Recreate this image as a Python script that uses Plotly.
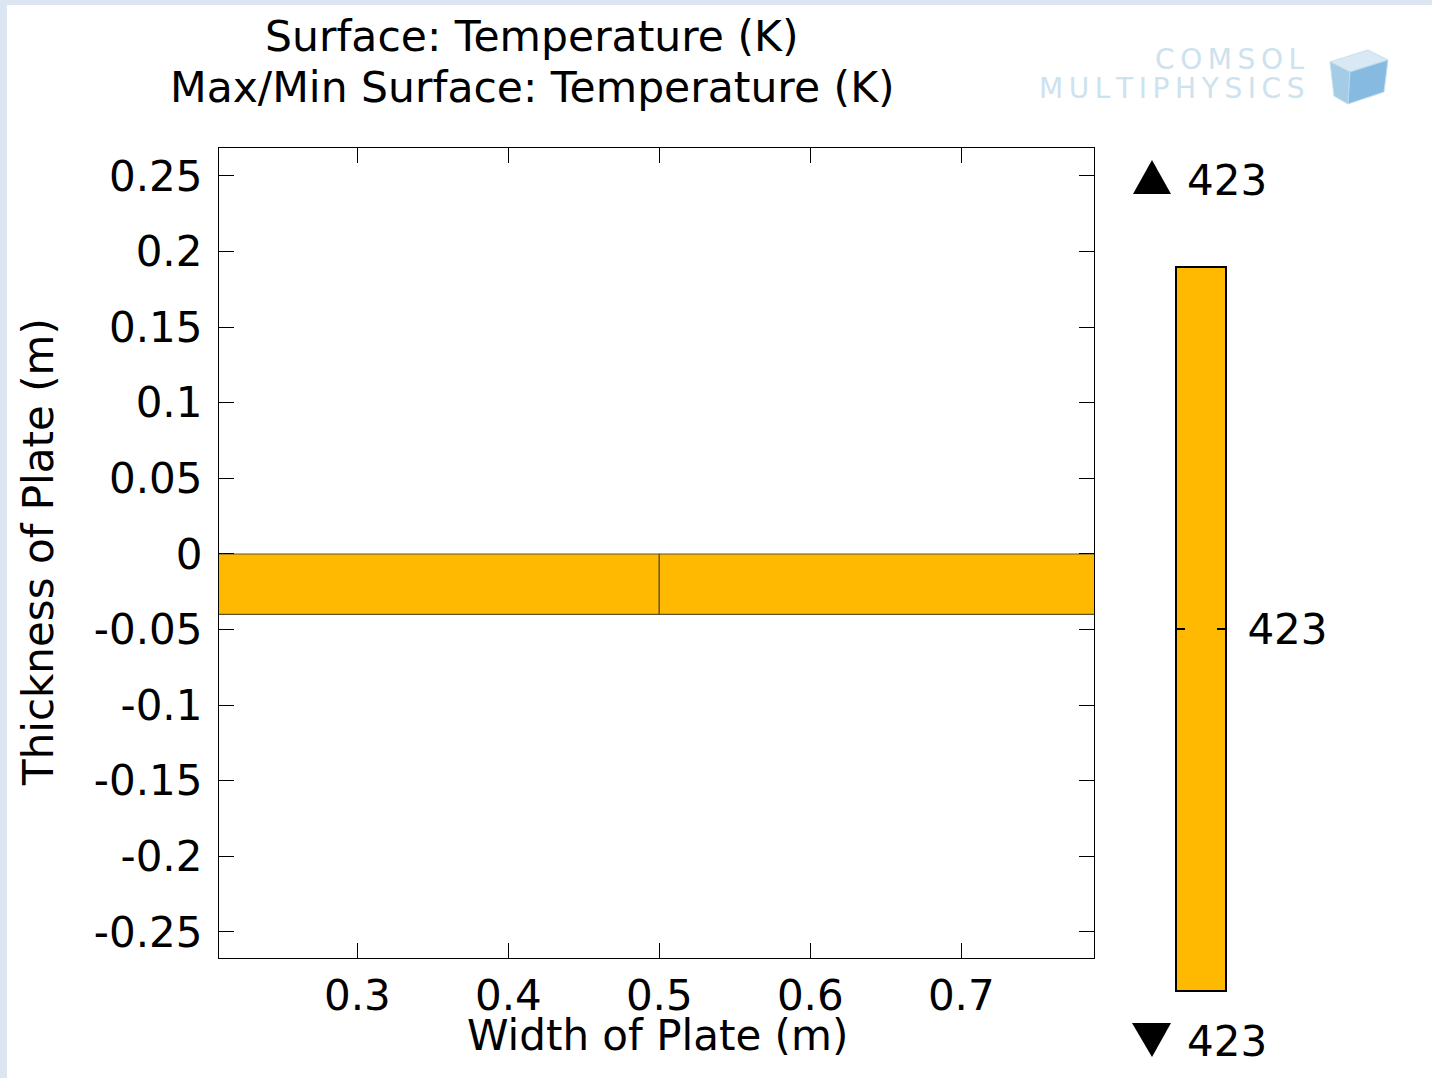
import plotly.graph_objects as go

# ---- data -------------------------------------------------------------
plate_x_edges = [0.0, 0.5, 1.0]          # plate segments along the width (m)
plate_y_top = 0.0                         # top face of the plate (m)
plate_y_bottom = -0.04                    # bottom face of the plate (m)
surface_temperature = 423                 # uniform surface temperature (K)
t_max = 423                               # max surface temperature (K)
t_min = 423                               # min surface temperature (K)

x_tick_vals = [0.3, 0.4, 0.5, 0.6, 0.7]
x_tick_text = ["0.3", "0.4", "0.5", "0.6", "0.7"]
y_tick_vals = [0.25, 0.2, 0.15, 0.1, 0.05, 0.0, -0.05, -0.1, -0.15, -0.2, -0.25]
y_tick_text = ["0.25", "0.2", "0.15", "0.1", "0.05", "0", "-0.05", "-0.1", "-0.15", "-0.2", "-0.25"]

# ---- page geometry ----------------------------------------------------
W, H = 1432, 1078
FONT = "DejaVu Sans"
PLATE_COLOR = "#FFB900"
EDGE_COLOR = "#5f5235"
FRAME_COLOR = "#dce6f2"
LOGO_COLOR = "#cde2ef"
TICK_SIZE = 42
TITLE_SIZE = 42.5


def px(x):
    return x / W


def py(y):
    return 1 - y / H


fig = go.Figure()

# plate segments
for x0, x1 in zip(plate_x_edges[:-1], plate_x_edges[1:]):
    fig.add_trace(go.Scatter(
        x=[x0, x1, x1, x0, x0],
        y=[plate_y_top, plate_y_top, plate_y_bottom, plate_y_bottom, plate_y_top],
        mode="lines", fill="toself", fillcolor=PLATE_COLOR,
        line=dict(color=EDGE_COLOR, width=1.2),
        hoverinfo="skip", showlegend=False,
        xaxis="x", yaxis="y",
    ))

# colour legend bar
span = max(t_max - t_min, 1.0) / 2
fig.add_trace(go.Heatmap(
    x=[0], y=[t_min - span / 2, t_max + span / 2],
    z=[[t_min], [t_max]],
    colorscale=[[0, PLATE_COLOR], [1, PLATE_COLOR]],
    showscale=False, hoverinfo="skip",
    xaxis="x2", yaxis="y2",
))

axis_common = dict(
    showline=True, linecolor="black", linewidth=1.3, mirror="ticks",
    ticks="inside", tickcolor="black", tickwidth=1.3, ticklen=15,
    showgrid=False, zeroline=False,
    tickfont=dict(family=FONT, size=TICK_SIZE, color="black"),
)

fig.update_layout(
    width=W, height=H,
    margin=dict(l=0, r=0, t=0, b=0),
    paper_bgcolor="white", plot_bgcolor="white",
    showlegend=False,
    xaxis=dict(
        domain=[px(219), px(1094)], range=[0.2084, 0.7879],
        tickmode="array", tickvals=x_tick_vals, ticktext=x_tick_text,
        ticklabelstandoff=0, anchor="y",
        **axis_common,
    ),
    yaxis=dict(
        domain=[py(958), py(148)], range=[-0.2672, 0.2685],
        tickmode="array", tickvals=y_tick_vals, ticktext=y_tick_text,
        ticklabelstandoff=7, anchor="x",
        **axis_common,
    ),
    xaxis2=dict(
        domain=[px(1177), px(1225)], range=[-0.5, 0.5], anchor="y2",
        showline=True, linecolor="black", linewidth=2, mirror=True,
        showticklabels=False, ticks="", showgrid=False, zeroline=False,
    ),
    yaxis2=dict(
        domain=[py(990), py(268)], range=[t_min - span, t_max + span],
        anchor="x2", side="right",
        showline=True, linecolor="black", linewidth=2, mirror="ticks",
        ticks="inside", ticklen=8, tickwidth=2, tickcolor="black",
        tickmode="array", tickvals=[surface_temperature],
        ticktext=[str(surface_temperature)],
        ticklabelstandoff=12,
        showgrid=False, zeroline=False,
        tickfont=dict(family=FONT, size=TICK_SIZE, color="black"),
    ),
)

shapes = []
# light frame strips along the top and left edges
shapes.append(dict(type="rect", xref="paper", yref="paper", x0=0, x1=1,
                   y0=py(5), y1=1, fillcolor=FRAME_COLOR, line_width=0, layer="below"))
shapes.append(dict(type="rect", xref="paper", yref="paper", x0=0, x1=px(7),
                   y0=0, y1=1, fillcolor=FRAME_COLOR, line_width=0, layer="below"))


def poly_path(pts):
    return "M " + " L ".join(f"{px(a):.5f},{py(b):.5f}" for a, b in pts) + " Z"


# max / min markers
shapes.append(dict(type="path", xref="paper", yref="paper",
                   path=poly_path([(1133, 194), (1171, 194), (1152, 160)]),
                   fillcolor="black", line_width=0))
shapes.append(dict(type="path", xref="paper", yref="paper",
                   path=poly_path([(1132, 1023), (1171, 1023), (1152, 1057)]),
                   fillcolor="black", line_width=0))

# logo cube
cube_faces = [
    ([(1330, 62), (1368, 50), (1388, 60), (1350, 72)], "#cfe4f2"),
    ([(1330, 62), (1350, 72), (1348, 104), (1334, 96)], "#8fc0e2"),
    ([(1350, 72), (1388, 60), (1384, 92), (1348, 104)], "#6aaad9"),
]
for pts, col in cube_faces:
    shapes.append(dict(type="path", xref="paper", yref="paper",
                       path=poly_path(pts), fillcolor=col, opacity=0.8,
                       line=dict(color="#b9d8ec", width=1)))

fig.update_layout(shapes=shapes)

annotations = []


def text(x, y, s, size=TITLE_SIZE, color="black", xanchor="center", angle=0):
    annotations.append(dict(
        x=px(x), y=py(y), xref="paper", yref="paper", text=s, showarrow=False,
        xanchor=xanchor, yanchor="middle", textangle=angle,
        font=dict(family=FONT, size=size, color=color),
    ))


def spaced(word):
    return "\u2009".join(word)


text(532, 36, "Surface: Temperature (K)")
text(532, 88, "Max/Min Surface: Temperature (K)")
text(657, 1035, "Width of Plate (m)", size=42)
text(38, 552, "Thickness of Plate (m)", size=42, angle=-90)
text(1185, 181, str(t_max), size=TICK_SIZE, xanchor="left")
text(1185, 1041, str(t_min), size=TICK_SIZE, xanchor="left")
text(1307, 60, spaced("COMSOL"), size=28, color=LOGO_COLOR, xanchor="right")
text(1307, 89, spaced("MULTIPHYSICS"), size=28, color=LOGO_COLOR, xanchor="right")

fig.update_layout(annotations=annotations)

fig.write_html("out.html")
